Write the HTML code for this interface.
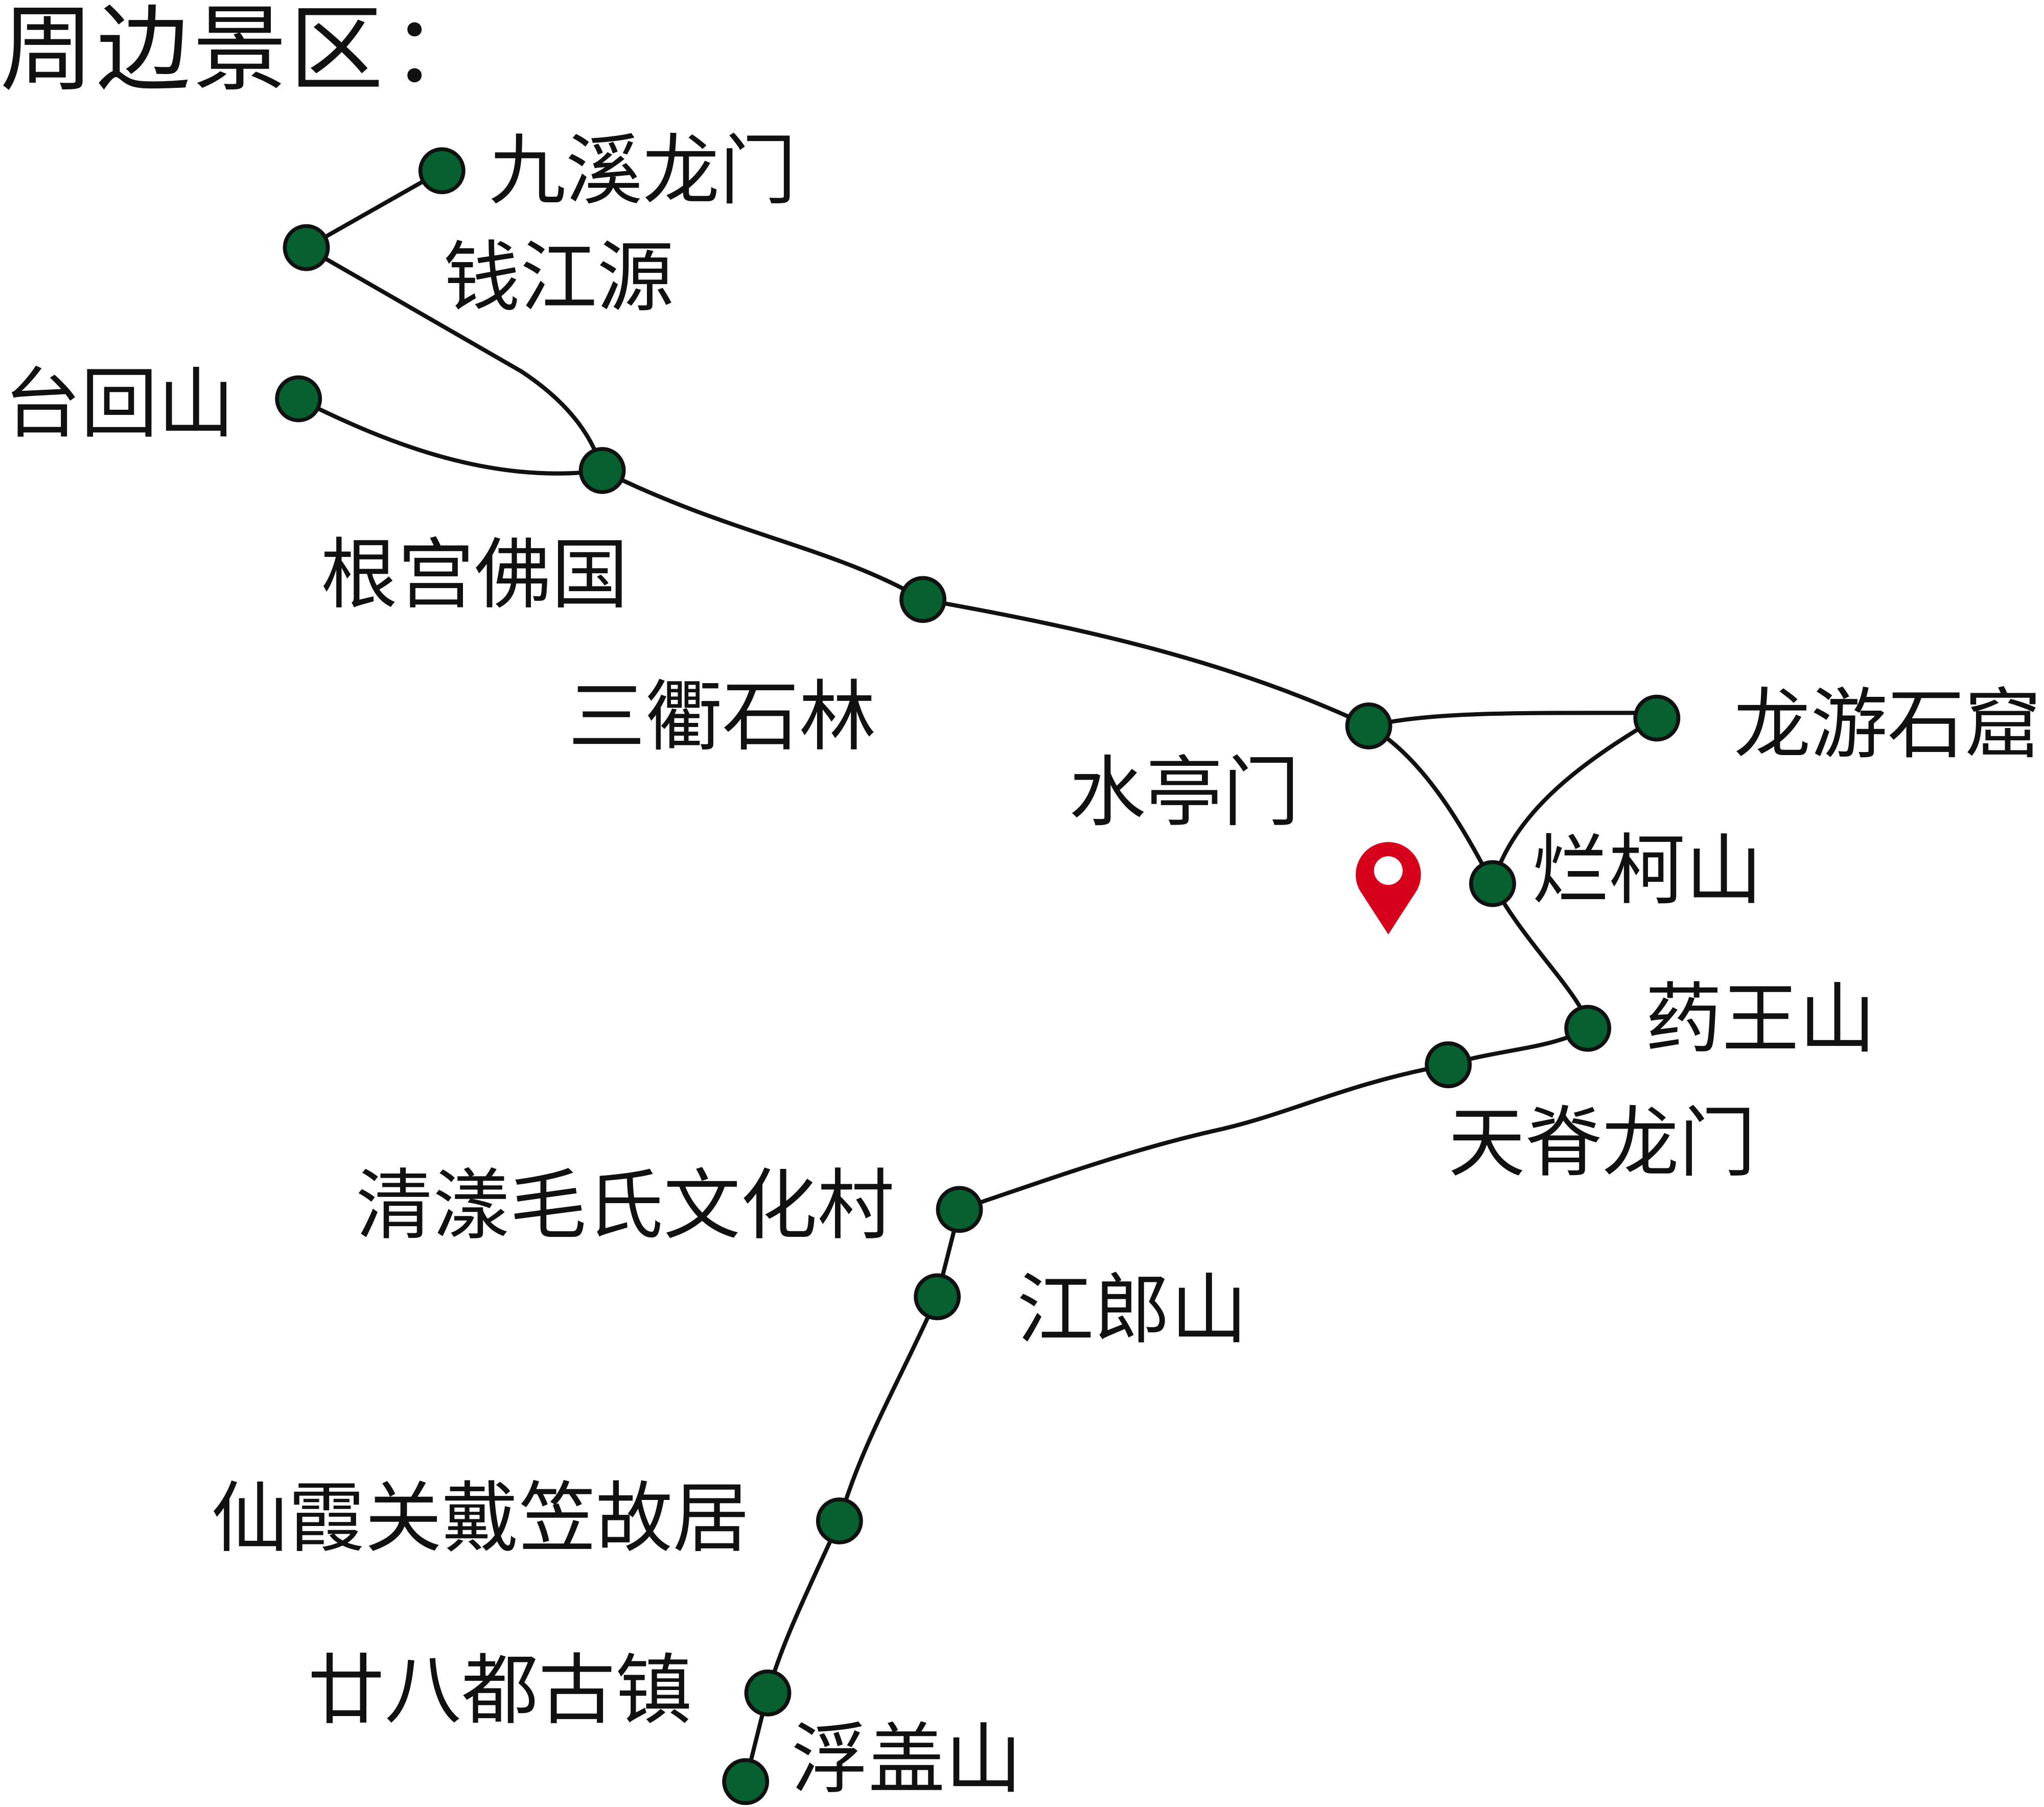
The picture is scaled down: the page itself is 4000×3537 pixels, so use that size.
<!DOCTYPE html>
<html><head><meta charset="utf-8"><style>
html,body{margin:0;padding:0;background:#fff;}
svg{display:block;}
text{font-family:"Liberation Sans","Noto Sans CJK SC",sans-serif;fill:#111;}
</style></head><body>
<svg width="4000" height="3537" viewBox="0 0 1568 1386.5" preserveAspectRatio="none" xmlns="http://www.w3.org/2000/svg">
<g fill="none" stroke="#111" stroke-width="3.2">
<path d="M339,131 L235,190"/>
<path d="M235,190 L400,285 Q450,318 462,361"/>
<path d="M229,306 C300,342 380,372 462,361"/>
<path d="M462,361 C560,410 640,420 708,460"/>
<path d="M708,460 C820,480 940,505 1050,557"/>
<path d="M1050,557 C1100,546 1160,547 1271,547"/>
<path d="M1050,557 C1090,580 1120,630 1145,678"/>
<path d="M1271,551 C1200,592 1160,630 1145,678"/>
<path d="M1145,678 C1170,725 1218,768 1218,789"/>
<path d="M1218,789 C1190,805 1150,805 1111,817"/>
<path d="M1111,817 C1030,832 990,855 930,868 C860,884 790,910 736,928"/>
<path d="M736,928 L719,995"/>
<path d="M719,995 C690,1060 660,1110 644,1167"/>
<path d="M644,1167 C620,1220 600,1260 589,1299"/>
<path d="M589,1299 L572,1367"/>
</g>
<g fill="#07602f" stroke="#111" stroke-width="3">
<circle cx="339" cy="131" r="16.5"/>
<circle cx="235" cy="190" r="16.5"/>
<circle cx="229" cy="306" r="16.5"/>
<circle cx="462" cy="361" r="16.5"/>
<circle cx="708" cy="460" r="16.5"/>
<circle cx="1050" cy="557" r="16.5"/>
<circle cx="1271" cy="551" r="16.5"/>
<circle cx="1145" cy="678" r="16.5"/>
<circle cx="1218" cy="789" r="16.5"/>
<circle cx="1111" cy="817" r="16.5"/>
<circle cx="736" cy="928" r="16.5"/>
<circle cx="719" cy="995" r="16.5"/>
<circle cx="644" cy="1167" r="16.5"/>
<circle cx="589" cy="1299" r="16.5"/>
<circle cx="572" cy="1367" r="16.5"/>
</g>
<path d="M1065,717 L1043,683 A25,25 0 1 1 1087,683 Z" fill="#d7001b"/>
<circle cx="1065" cy="668" r="11" fill="#fff"/>
<g font-size="59" dominant-baseline="central">
<text x="0" y="38" font-size="72" letter-spacing="2">周边景区</text>
<text x="300" y="38" font-size="72">：</text>
<text x="375" y="131">九溪龙门</text>
<text x="340" y="213">钱江源</text>
<text x="3" y="310">台回山</text>
<text x="246" y="441">根宫佛国</text>
<text x="436" y="550">三衢石林</text>
<text x="820" y="608">水亭门</text>
<text x="1330" y="556">龙游石窟</text>
<text x="1175" y="668">烂柯山</text>
<text x="1262" y="782">药王山</text>
<text x="1111" y="877">天脊龙门</text>
<text x="273" y="925">清漾毛氏文化村</text>
<text x="780" y="1005">江郎山</text>
<text x="162" y="1165">仙霞关戴笠故居</text>
<text x="236" y="1297">廿八都古镇</text>
<text x="607" y="1350">浮盖山</text>
</g>
</svg>
</body></html>
